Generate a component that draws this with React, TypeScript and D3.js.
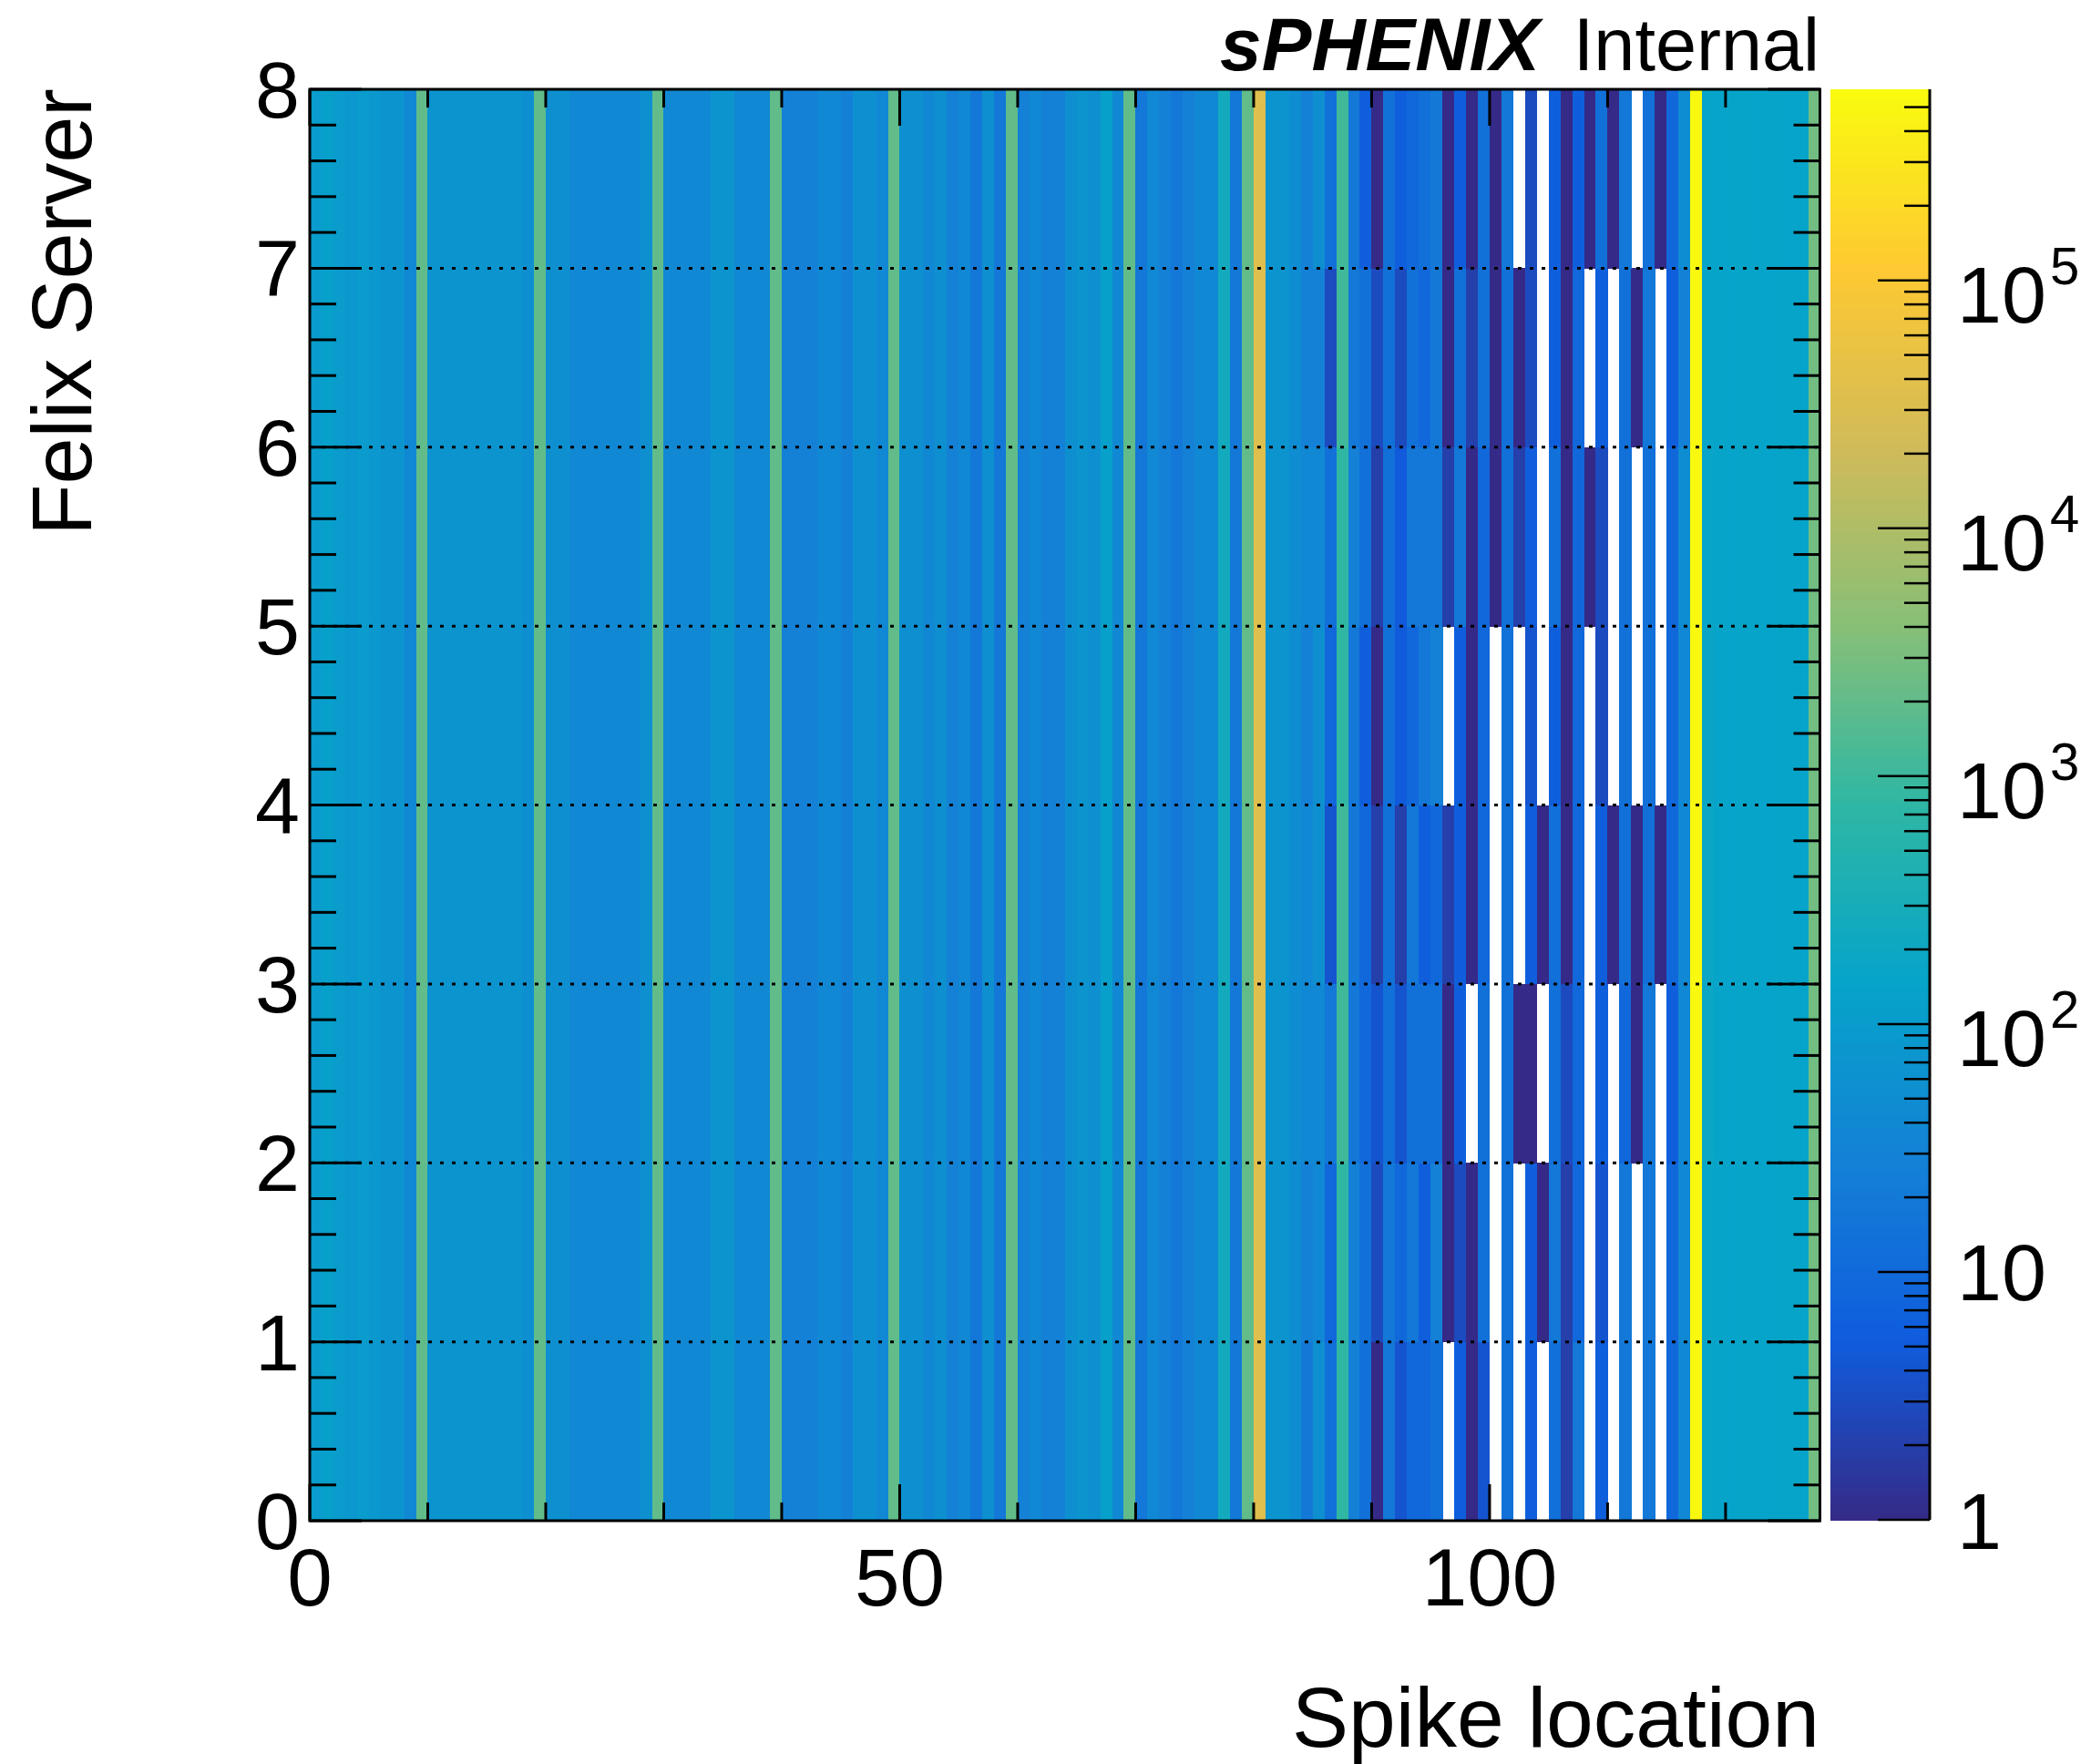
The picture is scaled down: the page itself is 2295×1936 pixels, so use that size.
import React from "react";
import * as d3 from "d3";

// ---------- data ----------
const N_BINS = 128;
const N_SERVERS = 8;
const X_MAJOR = [0, 50, 100];
const X_MINOR = [10, 20, 30, 40, 60, 70, 80, 90, 110, 120];
const Y_TICKS = [0, 1, 2, 3, 4, 5, 6, 7, 8];
const Z_DECADES = [1, 10, 100, 1000, 10000, 100000];
const Z_MIN = 1;
const Z_MAX = 5.9e5;

// spike-location bins 0..83 (nearly identical in every Felix server)
const bins0to83 = [
  102, 121, 102, 84, 102, 84, 69, 69, 39, 2000,
  69, 69, 69, 69, 69, 69, 69, 69, 58, 2000,
  58, 58, 39, 39, 39, 39, 39, 39, 58, 2000,
  39, 39, 39, 39, 69, 69, 39, 39, 39, 2000,
  28, 28, 28, 39, 39, 28, 58, 58, 39, 2000,
  58, 58, 39, 58, 28, 39, 19, 58, 19, 2000,
  28, 39, 28, 28, 58, 69, 58, 121, 39, 2000,
  19, 39, 28, 19, 28, 39, 39, 250, 19, 2000,
  36000, 69, 69, 50,
];

// bins 84..127 per server
const server0Tail = [20, 58, 13, 800, 28, 13, 1, 19, 4, 9, 9, 13, 0, 6, 1, 4, 0, 13, 0, 6, 0, 13, 2, 19, 0, 6, 0, 19, 0, 19, 0, 9, 39, 550000, 160, 150, 145, 150, 150, 145, 150, 150, 145, 2700];
const server1Tail = [28, 39, 9, 800, 28, 13, 3, 19, 9, 19, 6, 28, 1, 3, 1, 13, 0, 13, 0, 6, 1, 19, 2, 9, 0, 4, 0, 19, 0, 19, 0, 9, 39, 550000, 160, 150, 145, 150, 150, 145, 150, 150, 145, 2700];
const server2Tail = [39, 39, 19, 1070, 19, 9, 4, 13, 4, 13, 13, 13, 1, 6, 0, 13, 0, 13, 1, 1, 0, 13, 3, 9, 0, 6, 0, 9, 1, 19, 0, 6, 39, 550000, 180, 150, 145, 150, 150, 145, 150, 150, 145, 2700];
const server3Tail = [39, 58, 4, 1070, 19, 9, 2, 13, 2, 19, 6, 9, 2, 6, 1, 9, 0, 13, 0, 6, 1, 13, 1, 9, 0, 6, 1, 13, 1, 13, 1, 9, 39, 550000, 180, 150, 145, 150, 150, 145, 150, 150, 145, 2700];
const server4Tail = [28, 58, 9, 800, 19, 6, 1, 13, 5, 9, 19, 28, 0, 6, 1, 9, 0, 13, 0, 4, 0, 6, 1, 9, 0, 3, 0, 13, 0, 13, 0, 9, 39, 550000, 170, 150, 145, 150, 150, 145, 150, 150, 145, 2700];
const server5Tail = [39, 39, 13, 800, 28, 13, 2, 13, 5, 19, 19, 19, 2, 19, 1, 9, 1, 13, 2, 6, 0, 13, 1, 9, 1, 3, 0, 13, 0, 13, 0, 9, 50, 550000, 160, 150, 145, 150, 150, 145, 150, 150, 145, 2700];
const server6Tail = [28, 28, 3, 1070, 19, 13, 3, 13, 3, 13, 9, 20, 1, 13, 2, 13, 1, 13, 1, 3, 0, 6, 1, 9, 0, 6, 0, 13, 1, 19, 0, 6, 28, 550000, 150, 150, 145, 150, 150, 145, 150, 150, 145, 2700];
const server7Tail = [28, 58, 13, 1070, 19, 6, 1, 13, 6, 9, 13, 20, 1, 6, 1, 13, 1, 19, 0, 3, 0, 6, 1, 6, 1, 13, 1, 19, 0, 13, 1, 9, 50, 550000, 150, 145, 150, 150, 145, 150, 150, 145, 150, 2700];

const servers = [
  [...bins0to83, ...server0Tail],
  [...bins0to83, ...server1Tail],
  [...bins0to83, ...server2Tail],
  [...bins0to83, ...server3Tail],
  [...bins0to83, ...server4Tail],
  [...bins0to83, ...server5Tail],
  [...bins0to83, ...server6Tail],
  [...bins0to83, ...server7Tail],
];

// ROOT kBird palette
const BIRD_STOPS = [0, 0.125, 0.25, 0.375, 0.5, 0.625, 0.75, 0.875, 1];
const BIRD_R = [0.2082, 0.0592, 0.078, 0.0232, 0.1802, 0.5301, 0.8186, 0.9956, 0.9764];
const BIRD_G = [0.1664, 0.3599, 0.5041, 0.6419, 0.7178, 0.7492, 0.7328, 0.7862, 0.9832];
const BIRD_B = [0.5293, 0.8684, 0.8385, 0.7914, 0.6425, 0.4662, 0.3499, 0.1968, 0.0539];

// ---------- layout ----------
const W = 2295;
const H = 1936;
const PL = 340, PR = 1997.5, PT = 98, PB = 1669;
const CB_L = 2009, CB_R = 2118, CB_T = 98, CB_B = 1668;
const FONT = "'Liberation Sans', Arial, Helvetica, sans-serif";

const birdR = d3.scaleLinear().domain(BIRD_STOPS).range(BIRD_R).clamp(true);
const birdG = d3.scaleLinear().domain(BIRD_STOPS).range(BIRD_G).clamp(true);
const birdB = d3.scaleLinear().domain(BIRD_STOPS).range(BIRD_B).clamp(true);
function bird(t: number) {
  const c = (v: number) => Math.round(v * 255);
  return `rgb(${c(birdR(t))},${c(birdG(t))},${c(birdB(t))})`;
}

export default function App() {
  const x = d3.scaleLinear().domain([0, N_BINS]).range([PL, PR]);
  const y = d3.scaleLinear().domain([0, N_SERVERS]).range([PB, PT]);
  const zt = d3.scaleLog().domain([Z_MIN, Z_MAX]).range([0, 1]).clamp(true);
  const zc = d3.scaleLog().domain([Z_MIN, Z_MAX]).range([CB_B, CB_T]);

  const cells: JSX.Element[] = [];
  servers.forEach((row, r) => {
    row.forEach((v, i) => {
      if (v <= 0) return;
      const x0 = x(i), x1 = x(i + 1);
      const y0 = y(r + 1), y1 = y(r);
      cells.push(
        <rect key={`c${r}-${i}`} x={x0} y={y0} width={x1 - x0 + 0.4} height={y1 - y0 + 0.4}
          fill={bird(zt(v))} shapeRendering="crispEdges" />
      );
    });
  });

  const yMinor: number[] = [];
  for (let k = 0; k <= 40; k++) if (k % 5 !== 0) yMinor.push(k / 5);

  const NCOL = 255;
  const cbRects = d3.range(NCOL).map((k) => {
    const ya = CB_B - ((k + 1) / NCOL) * (CB_B - CB_T);
    const yb = CB_B - (k / NCOL) * (CB_B - CB_T);
    return <rect key={`cb${k}`} x={CB_L} y={ya} width={CB_R - CB_L} height={yb - ya + 0.6}
      fill={bird((k + 0.5) / NCOL)} shapeRendering="crispEdges" />;
  });

  const zMinor: number[] = [];
  Z_DECADES.forEach((d) => {
    for (let k = 2; k <= 9; k++) if (k * d <= Z_MAX) zMinor.push(k * d);
  });

  return (
    <svg width={W} height={H} style={{ position: "absolute", left: 0, top: 0, background: "#fff" }}
      fontFamily={FONT}>
      <rect x={0} y={0} width={W} height={H} fill="#fff" />
      {cells}
      {/* horizontal dotted grid */}
      {Y_TICKS.slice(1, -1).map((v) => (
        <line key={`g${v}`} x1={PL} x2={PR} y1={y(v)} y2={y(v)} stroke="#000" strokeWidth={3}
          strokeDasharray="4 9" />
      ))}
      {/* y ticks left and right */}
      {Y_TICKS.map((v) => (
        <g key={`yt${v}`}>
          <line x1={PL} x2={PL + 57} y1={y(v)} y2={y(v)} stroke="#000" strokeWidth={3} />
          <line x1={PR - 57} x2={PR} y1={y(v)} y2={y(v)} stroke="#000" strokeWidth={3} />
        </g>
      ))}
      {yMinor.map((v) => (
        <g key={`ym${v}`}>
          <line x1={PL} x2={PL + 29} y1={y(v)} y2={y(v)} stroke="#000" strokeWidth={3} />
          <line x1={PR - 29} x2={PR} y1={y(v)} y2={y(v)} stroke="#000" strokeWidth={3} />
        </g>
      ))}
      {/* x ticks bottom and top */}
      {X_MAJOR.map((v) => (
        <g key={`xt${v}`}>
          <line x1={x(v)} x2={x(v)} y1={PB} y2={PB - 40} stroke="#000" strokeWidth={3} />
          <line x1={x(v)} x2={x(v)} y1={PT} y2={PT + 40} stroke="#000" strokeWidth={3} />
        </g>
      ))}
      {X_MINOR.map((v) => (
        <g key={`xm${v}`}>
          <line x1={x(v)} x2={x(v)} y1={PB} y2={PB - 20} stroke="#000" strokeWidth={3} />
          <line x1={x(v)} x2={x(v)} y1={PT} y2={PT + 20} stroke="#000" strokeWidth={3} />
        </g>
      ))}
      {/* frame */}
      <rect x={PL} y={PT} width={PR - PL} height={PB - PT} fill="none" stroke="#000" strokeWidth={3} />

      {/* tick labels */}
      {Y_TICKS.map((v) => (
        <text key={`yl${v}`} x={329} y={y(v) + 31} fontSize={88} textAnchor="end">{v}</text>
      ))}
      {X_MAJOR.map((v) => (
        <text key={`xl${v}`} x={x(v)} y={1762} fontSize={89} textAnchor="middle">{v}</text>
      ))}

      {/* axis titles */}
      <text x={1997} y={1917} fontSize={93} textAnchor="end">Spike location</text>
      <text transform="translate(100,97) rotate(-90)" fontSize={92} textAnchor="end">Felix Server</text>

      {/* header */}
      <text x={1690} y={77} fontSize={82} fontWeight="bold" fontStyle="italic" textAnchor="end">sPHENIX</text>
      <text x={1997} y={77} fontSize={81} textAnchor="end">Internal</text>

      {/* colour bar */}
      {cbRects}
      {Z_DECADES.map((d) => (
        <line key={`zt${d}`} x1={CB_R - 57} x2={CB_R} y1={zc(d)} y2={zc(d)} stroke="#000" strokeWidth={2.5} />
      ))}
      {zMinor.map((d) => (
        <line key={`zm${d}`} x1={CB_R - 28} x2={CB_R} y1={zc(d)} y2={zc(d)} stroke="#000" strokeWidth={2.5} />
      ))}
      <line x1={CB_R} x2={CB_R} y1={CB_T} y2={CB_B} stroke="#000" strokeWidth={3} />
      {Z_DECADES.map((d) => {
        const e = Math.round(Math.log10(d));
        const yy = zc(d);
        if (e === 0) return <text key={`zl${d}`} x={2148} y={yy + 32} fontSize={88}>1</text>;
        if (e === 1) return <text key={`zl${d}`} x={2148} y={yy + 31} fontSize={88}>10</text>;
        return (
          <g key={`zl${d}`}>
            <text x={2148} y={yy + 46} fontSize={88}>10</text>
            <text x={2250} y={yy + 4} fontSize={58}>{e}</text>
          </g>
        );
      })}
    </svg>
  );
}
